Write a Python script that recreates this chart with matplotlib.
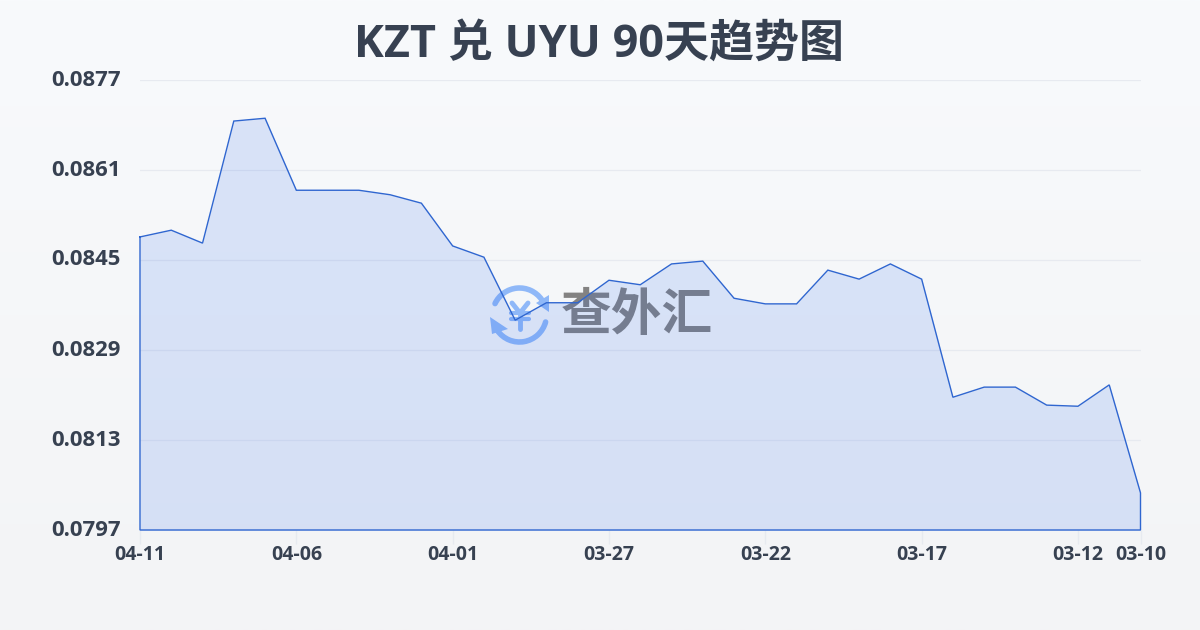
import numpy as np
import matplotlib
matplotlib.use('Agg')
import matplotlib.pyplot as plt
from matplotlib.patches import Arc, Polygon

plt.rcParams['font.family'] = ['Open Sans', 'Noto Sans CJK SC', 'DejaVu Sans']

rates = [0.08491, 0.08503, 0.08480, 0.08697, 0.08702, 0.08574, 0.08574, 0.08574,
         0.08566, 0.08551, 0.08475, 0.08455, 0.08343, 0.08374, 0.08374, 0.08414,
         0.08406, 0.08443, 0.08448, 0.08382, 0.08372, 0.08372, 0.08432, 0.08416,
         0.08443, 0.08416, 0.08206, 0.08224, 0.08224, 0.08192, 0.08190, 0.08228,
         0.08036]
tick_pos = [0, 5, 10, 15, 20, 25, 30, 32]
tick_labels = ['04-11', '04-06', '04-01', '03-27', '03-22', '03-17', '03-12', '03-10']
y_ticks = [0.0797, 0.0813, 0.0829, 0.0845, 0.0861, 0.0877]
y_labels = ['0.0797', '0.0813', '0.0829', '0.0845', '0.0861', '0.0877']

W, H = 1200, 630
text_color = '#374151'
line_color = '#2f66d0'
grid_color = '#e7eaf0'

fig = plt.figure(figsize=(W / 100, H / 100), dpi=100)

# background gradient
bg = fig.add_axes([0, 0, 1, 1], zorder=0)
grad = np.linspace(0, 1, 256).reshape(-1, 1)
top = np.array([248, 250, 252]) / 255
bottom = np.array([243, 244, 246]) / 255
bg.imshow(top + (bottom - top) * grad[:, :, None], aspect='auto', extent=[0, W, H, 0])
bg.set_xlim(0, W)
bg.set_ylim(H, 0)
bg.axis('off')

# title and watermark in pixel coords, under the chart axes
ov = fig.add_axes([0, 0, 1, 1], zorder=1)
ov.set_xlim(0, W)
ov.set_ylim(H, 0)
ov.axis('off')
ov.patch.set_alpha(0)
ov.text(599, 45.5, 'KZT 兑 UYU 90天趋势图', ha='center', va='center', fontsize=32.4,
        fontweight='bold', color=text_color)

logo = '#8fb8f8'
cx, cy = 519.5, 315
ov.add_patch(Arc((cx, cy), 54, 54, theta1=205, theta2=325, color=logo, lw=4, capstyle='round'))
ov.add_patch(Arc((cx, cy), 54, 54, theta1=15, theta2=145, color=logo, lw=4, capstyle='round'))
ov.add_patch(Polygon([[490, 317], [492, 334], [508, 329]], closed=True, color=logo, lw=0))
ov.add_patch(Polygon([[549, 295], [549, 312], [536, 303]], closed=True, color=logo, lw=0))
ov.plot([512, 520, 528], [303, 313, 303], color=logo, lw=3.5, solid_capstyle='round')
ov.plot([520, 520], [313, 329], color=logo, lw=3.5, solid_capstyle='round')
ov.plot([511, 529], [313, 313], color=logo, lw=3, solid_capstyle='round')
ov.plot([511, 529], [319, 319], color=logo, lw=3, solid_capstyle='round')
ov.text(636.5, 317, '查外汇', ha='center', va='center', fontsize=36.5, fontweight='bold',
        color='#838282')

ax = fig.add_axes([140 / W, 1 - 530 / H, 1000.5 / W, 450 / H], zorder=2)
ax.patch.set_alpha(0)
x = np.arange(len(rates))
ax.set_axisbelow(True)
ax.grid(axis='y', color=grid_color, lw=0.9)
ax.fill_between(x, rates, y_ticks[0], color='#2563eb', alpha=0.14, lw=0)
outline_x = np.concatenate([x, [x[-1], x[0], x[0]]])
outline_y = rates + [y_ticks[0], y_ticks[0], rates[0]]
ax.plot(outline_x, outline_y, color=line_color, lw=1, clip_on=False, zorder=4,
        solid_joinstyle='miter')
ax.set_xlim(0, 32)
ax.set_ylim(y_ticks[0], y_ticks[-1])
ax.set_xticks(tick_pos)
ax.set_xticklabels(tick_labels, fontsize=14, fontweight='bold', color=text_color)
ax.set_yticks(y_ticks)
ax.set_yticklabels(y_labels, fontsize=15.9, fontweight='bold', color=text_color)
ax.tick_params(axis='x', length=10, width=1, color=grid_color, pad=1)
ax.tick_params(axis='y', length=0, pad=14)
for label in ax.get_yticklabels():
    label.set_verticalalignment('center')
for s in ax.spines.values():
    s.set_visible(False)

fig.savefig('out.png', dpi=100)
